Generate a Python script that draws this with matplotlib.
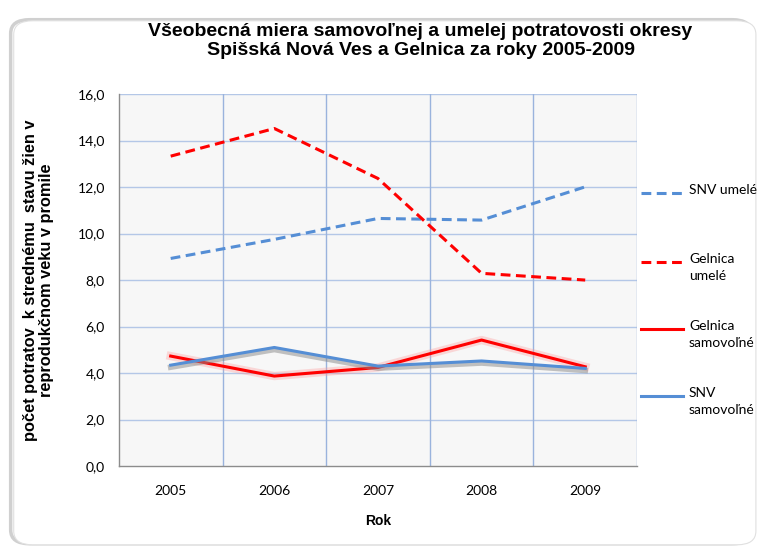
# encoding="utf-8"
# Všeobecná miera potratovosti - SNV a Gelnica

import matplotlib
matplotlib.use("Agg")
import matplotlib.pyplot as plt
import matplotlib.patheffects as pe
from matplotlib.patches import FancyBboxPatch
from matplotlib.lines import Line2D
from matplotlib.ticker import FuncFormatter, MultipleLocator

# data
roky = ["2005", "2006", "2007", "2008", "2009"]
snv_umele = [8.93, 9.75, 10.65, 10.58, 12.01]
gelnica_umele = [13.33, 14.52, 12.37, 8.29, 8.00]
gelnica_samovolne = [4.73, 3.87, 4.24, 5.42, 4.27]
snv_samovolne = [4.34, 5.10, 4.30, 4.52, 4.20]

nazvy = ["SNV umelé", "Gelnica\numelé", "Gelnica\nsamovoľné", "SNV\nsamovoľné"]

cervena = "#FF0000"
modra = "#558ED5"
calibri = ["Lato", "DejaVu Sans"]

fig = plt.figure(figsize=(7.62, 5.47), dpi=100)
fig.patch.set_facecolor("white")

# ramik grafu s tienom
tien = FancyBboxPatch((0.014, 0.006), 0.972, 0.958, boxstyle="round,pad=0,rounding_size=0.025",
                      transform=fig.transFigure, facecolor="none", edgecolor="#D0D0D0", lw=2.5, zorder=0)
ramik = FancyBboxPatch((0.018, 0.004), 0.974, 0.958, boxstyle="round,pad=0,rounding_size=0.025",
                       transform=fig.transFigure, facecolor="white", edgecolor="#E0E0E0", lw=0.8, zorder=0)
fig.add_artist(tien)
fig.add_artist(ramik)

ax = fig.add_axes([0.156, 0.148, 0.680, 0.680])
ax.set_facecolor("#F7F7F7")
x = list(range(len(roky)))

ax.plot(x, snv_umele, color=modra, lw=2.2, ls=(0, (3.2, 1.8)), zorder=4)
ax.plot(x, gelnica_umele, color=cervena, lw=2.2, ls=(0, (3.2, 1.8)), zorder=4)
ax.plot(x, gelnica_samovolne, color=cervena, lw=2.2, zorder=5,
        path_effects=[pe.Stroke(linewidth=6, foreground="#FF9999", alpha=0.35), pe.Normal()])
ax.plot(x, snv_samovolne, color=modra, lw=2.2, zorder=5,
        path_effects=[pe.SimpleLineShadow(offset=(0, -1.5), shadow_color="#888888", alpha=0.5, linewidth=4),
                      pe.Normal()])

ax.set_xlim(-0.5, len(roky) - 0.5)
ax.set_ylim(0, 16)
ax.yaxis.set_major_locator(MultipleLocator(2))
ax.yaxis.set_major_formatter(FuncFormatter(lambda v, p: f"{v:.1f}".replace(".", ",")))
ax.set_xticks(x)
ax.set_xticklabels(roky)

# mriezka
for yy in range(2, 17, 2):
    ax.axhline(yy, color="#B4C7E7", lw=1.0, zorder=1)
for xx in [i + 0.5 for i in range(len(roky))]:
    ax.axvline(xx, color="#9AB3DD", lw=1.0, zorder=1)

for s in ["top", "right"]:
    ax.spines[s].set_visible(False)
for s in ["left", "bottom"]:
    ax.spines[s].set_color("#8C8C8C")
    ax.spines[s].set_linewidth(1.0)
ax.tick_params(length=0, labelsize=10, pad=10)
for t in ax.get_xticklabels() + ax.get_yticklabels():
    t.set_family(calibri)
ax.tick_params(axis="x", pad=14)

ax.set_xlabel("Rok", fontsize=10, fontweight="bold", family="Liberation Sans", labelpad=12)
ax.set_ylabel("počet potratov  k strednému  stavu žien v\nreprodukčnom veku v promile",
              fontsize=11.8, fontweight="bold", family="Liberation Sans", labelpad=17, linespacing=1.1)

fig.text(0.552, 0.925, "Všeobecná miera samovoľnej a umelej potratovosti okresy\nSpišská Nová Ves a Gelnica za roky 2005-2009",
         ha="center", va="center", fontsize=14, fontweight="bold", family="Liberation Sans", linespacing=1.12)

# legenda
leg_y = [193, 262, 329, 396]
leg_farby = [modra, cervena, cervena, modra]
leg_styl = [(0, (3.2, 1.8)), (0, (3.2, 1.8)), "-", "-"]
for yy, f, st, n in zip(leg_y, leg_farby, leg_styl, nazvy):
    yf = 1 - yy / 547
    fig.add_artist(Line2D([641 / 762, 683 / 762], [yf, yf], color=f, lw=2.2, ls=st,
                          transform=fig.transFigure))
    fig.text(689 / 762, yf + 0.016, n, ha="left", va="top", fontsize=10, family=calibri,
             linespacing=1.45)

fig.savefig("out.png", dpi=100)
